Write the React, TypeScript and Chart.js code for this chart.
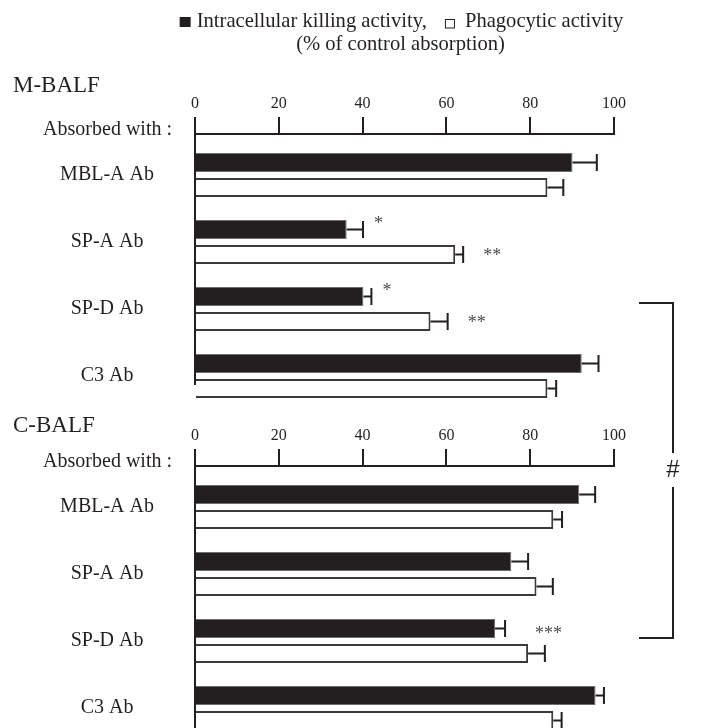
import React, { useEffect, useRef } from 'react';
import { Chart, registerables } from 'chart.js';

Chart.register(...registerables);

// ---------- data ----------
const categories = ['MBL-A Ab', 'SP-A Ab', 'SP-D Ab', 'C3 Ab'];
const xTickValues = [0, 20, 40, 60, 80, 100];

// M-BALF
const killingM = [90.1, 36.2, 40.2, 92.3];
const killingErrM = [5.8, 3.9, 1.9, 4.0];
const phagoM = [84.1, 62.1, 56.2, 84.1];
const phagoErrM = [3.8, 1.9, 4.1, 2.1];
const sigKillingM = ['', '*', '*', ''];
const sigPhagoM = ['', '**', '**', ''];

// C-BALF
const killingC = [91.7, 75.5, 71.6, 95.6];
const killingErrC = [3.8, 4.0, 2.4, 2.0];
const phagoC = [85.5, 81.5, 79.5, 85.5];
const phagoErrC = [2.1, 3.9, 4.0, 2.0];
const sigKillingC = ['', '', '***', ''];
const sigPhagoC = ['', '', '', ''];

const legendKilling = 'Intracellular killing activity,';
const legendPhago = 'Phagocytic activity';
const legendUnit = '(% of control absorption)';
const groupLabel = 'Absorbed with :';
const bracketMark = '#';

// ---------- style ----------
const INK = '#231f20';
const SERIF = '"Liberation Serif", "Times New Roman", serif';
const SANS = '"Liberation Sans", Arial, sans-serif';

type Panel = {
  title: string;
  killing: number[];
  killingErr: number[];
  phago: number[];
  phagoErr: number[];
  sigK: string[];
  sigP: string[];
  height: number;
  axisBand: number;
  padBottom: number;
  yMin: number;
  yMax: number;
  titleBaseline: number;
  showLegend: boolean;
  bracket: 'top' | 'bottom';
  sigKOffset: [number, number];
  sigPOffset: [number, number];
};

const panels: Panel[] = [
  {
    title: 'M-BALF',
    killing: killingM, killingErr: killingErrM, phago: phagoM, phagoErr: phagoErrM,
    sigK: sigKillingM, sigP: sigPhagoM,
    height: 408, axisBand: 134, padBottom: 24, yMin: -0.612, yMax: 3.119,
    titleBaseline: 92, showLegend: true, bracket: 'top',
    sigKOffset: [11, -9], sigPOffset: [20, -2],
  },
  {
    title: 'C-BALF',
    killing: killingC, killingErr: killingErrC, phago: phagoC, phagoErr: phagoErrC,
    sigK: sigKillingC, sigP: sigPhagoC,
    height: 320, axisBand: 58, padBottom: 0, yMin: -0.612, yMax: 3.298,
    titleBaseline: 24, showLegend: false, bracket: 'bottom',
    sigKOffset: [30, 2], sigPOffset: [20, -2],
  },
];

function makeDecor(p: Panel) {
  return {
    id: 'decor_' + p.title,
    afterDatasetsDraw(chart: any) {
      const ctx = chart.ctx as CanvasRenderingContext2D;
      const xs = chart.scales.x;
      const series = [
        { vals: p.killing, errs: p.killingErr, sig: p.sigK, off: p.sigKOffset },
        { vals: p.phago, errs: p.phagoErr, sig: p.sigP, off: p.sigPOffset },
      ];
      ctx.save();
      series.forEach((s, d) => {
        const meta = chart.getDatasetMeta(d);
        meta.data.forEach((bar: any, i: number) => {
          const x0 = xs.getPixelForValue(s.vals[i]);
          const x1 = xs.getPixelForValue(s.vals[i] + s.errs[i]);
          const cy = bar.y;
          const half = bar.height / 2 - 1;
          ctx.strokeStyle = INK;
          ctx.lineWidth = 2;
          ctx.beginPath();
          ctx.moveTo(x0, cy);
          ctx.lineTo(x1, cy);
          ctx.moveTo(x1, cy - half);
          ctx.lineTo(x1, cy + half);
          ctx.stroke();
          if (s.sig[i]) {
            ctx.fillStyle = '#4a4a4a';
            ctx.font = `18px ${SERIF}`;
            ctx.textAlign = 'left';
            ctx.textBaseline = 'alphabetic';
            ctx.fillText(s.sig[i], x1 + s.off[0], cy + s.off[1] + 8.5);
          }
        });
      });
      ctx.restore();
    },
    afterDraw(chart: any) {
      const ctx = chart.ctx as CanvasRenderingContext2D;
      const area = chart.chartArea;
      const ys = chart.scales.y;
      ctx.save();
      ctx.fillStyle = INK;
      ctx.strokeStyle = INK;
      // panel title
      ctx.font = `23px ${SERIF}`;
      ctx.textAlign = 'left';
      ctx.textBaseline = 'alphabetic';
      ctx.fillText(p.title, 13, p.titleBaseline);
      // group label
      ctx.font = `20px ${SERIF}`;
      ctx.textAlign = 'right';
      ctx.fillText(groupLabel, 172, area.top + 1);

      // legend
      if (p.showLegend) {
        ctx.font = `20.6px ${SERIF}`;
        ctx.textAlign = 'left';
        const w1 = ctx.measureText(legendKilling).width;
        const w2 = ctx.measureText(legendPhago).width;
        const total = 11 + 6 + w1 + 18 + 10 + 10 + w2;
        const cx = (area.left + area.right) / 2 - 3;
        let x = cx - total / 2;
        ctx.fillRect(x, 17, 11, 10);
        x += 17;
        ctx.fillText(legendKilling, x, 27);
        x += w1 + 18;
        ctx.lineWidth = 1;
        ctx.strokeRect(x + 0.5, 19.5, 9, 8.5);
        x += 20;
        ctx.fillText(legendPhago, x, 27);
        ctx.textAlign = 'center';
        ctx.fillText(legendUnit, cx - 1, 50);
      }

      // bracket (spans both panels)
      const bx = 673;
      const bl = 639;
      ctx.lineWidth = 2;
      ctx.beginPath();
      if (p.bracket === 'top') {
        const yTop = ys.getPixelForValue(2) - 6;
        ctx.moveTo(bl, yTop);
        ctx.lineTo(bx, yTop);
        ctx.lineTo(bx, chart.height + 1);
        ctx.stroke();
      } else {
        const yBot = ys.getPixelForValue(2) - 3;
        ctx.moveTo(bx, -1);
        ctx.lineTo(bx, 45);
        ctx.moveTo(bx, 79);
        ctx.lineTo(bx, yBot);
        ctx.lineTo(bl, yBot);
        ctx.stroke();
        ctx.font = `24px ${SANS}`;
        ctx.textAlign = 'center';
        ctx.textBaseline = 'middle';
        ctx.fillText(bracketMark, bx, 62);
      }
      ctx.restore();
    },
  };
}

function makeChart(canvas: HTMLCanvasElement, p: Panel) {
  return new Chart(canvas, {
    type: 'bar',
    data: {
      datasets: [
        {
          label: 'Intracellular killing activity',
          data: p.killing.map((v, i) => ({ x: v, y: i })),
          backgroundColor: INK,
          borderColor: '#6e6e6e',
          borderWidth: 1,
          borderSkipped: 'start',
          categoryPercentage: 0.746,
          barPercentage: 0.76,
          clip: false,
        } as any,
        {
          label: 'Phagocytic activity',
          data: p.phago.map((v, i) => ({ x: v, y: i })),
          backgroundColor: '#ffffff',
          borderColor: '#3a3a3a',
          borderWidth: 2,
          borderSkipped: 'start',
          categoryPercentage: 0.746,
          barPercentage: 0.76,
          clip: false,
        } as any,
      ],
    },
    options: {
      responsive: false,
      animation: false,
      indexAxis: 'y',
      events: [],
      layout: { padding: { left: 0, right: 88, top: 0, bottom: p.padBottom } },
      plugins: {
        legend: { display: false },
        tooltip: { enabled: false },
        title: { display: false },
      },
      scales: {
        x: {
          type: 'linear',
          position: 'top',
          min: 0,
          max: 100,
          afterBuildTicks: (s: any) => {
            s.ticks = xTickValues.map((v) => ({ value: v }));
          },
          afterFit: (s: any) => {
            s.height = p.axisBand;
          },
          ticks: {
            padding: 4,
            color: INK,
            maxRotation: 0,
            autoSkip: false,
            font: { family: SERIF, size: 16 },
          },
          grid: {
            drawOnChartArea: false,
            drawTicks: true,
            tickLength: 17,
            lineWidth: 2,
            color: INK,
          },
          border: { display: true, width: 2, color: INK },
        },
        y: {
          type: 'linear',
          reverse: true,
          offset: false,
          bounds: 'data',
          min: p.yMin,
          max: p.yMax,
          afterBuildTicks: (s: any) => {
            s.ticks = categories.map((_, i) => ({ value: i }));
          },
          afterFit: (s: any) => {
            s.width = 195;
            s.paddingTop = 0;
            s.paddingBottom = 0;
          },
          ticks: {
            callback: (v: any) => categories[v] ?? '',
            crossAlign: 'center',
            padding: 41,
            color: INK,
            autoSkip: false,
            font: { family: SERIF, size: 20 },
          },
          grid: { display: false, drawTicks: false, offset: false },
          border: { display: true, width: 2, color: INK, z: 1 },
        },
      },
    } as any,
    plugins: [makeDecor(p)],
  });
}

export default function App() {
  const topRef = useRef<HTMLCanvasElement>(null);
  const botRef = useRef<HTMLCanvasElement>(null);

  useEffect(() => {
    const c1 = makeChart(topRef.current!, panels[0]);
    const c2 = makeChart(botRef.current!, panels[1]);
    return () => {
      c1.destroy();
      c2.destroy();
    };
  }, []);

  return (
    <div style={{ position: 'absolute', left: 0, top: 0, width: 702, height: 728, background: '#fff', overflow: 'hidden' }}>
      <canvas
        ref={topRef}
        width={702}
        height={panels[0].height}
        style={{ position: 'absolute', left: 0, top: 0, display: 'block' }}
      />
      <canvas
        ref={botRef}
        width={702}
        height={panels[1].height}
        style={{ position: 'absolute', left: 0, top: panels[0].height, display: 'block' }}
      />
    </div>
  );
}
